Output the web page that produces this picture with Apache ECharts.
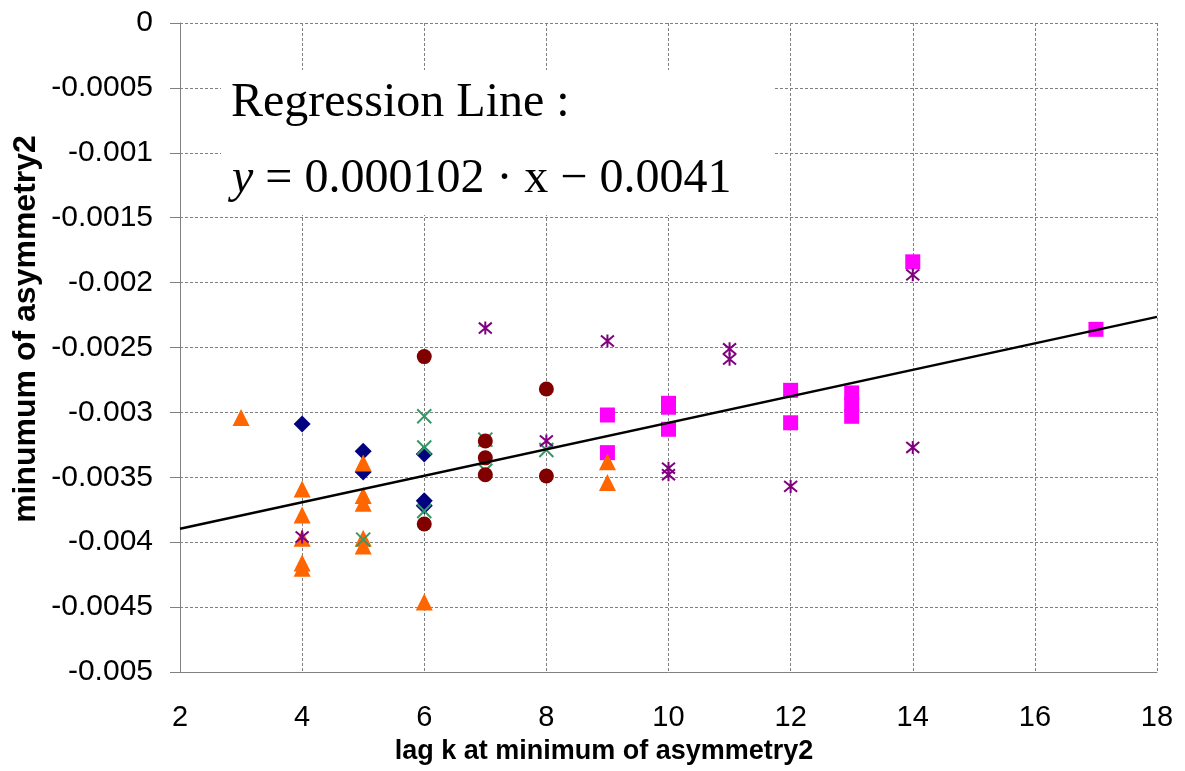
<!DOCTYPE html>
<html>
<head>
<meta charset="utf-8">
<title>minumum of asymmetry2 vs lag k</title>
<script src="https://cdn.jsdelivr.net/npm/echarts@6/dist/echarts.min.js"></script>
<style>
  html, body { margin: 0; padding: 0; background: #ffffff; }
  #chart { width: 1185px; height: 771px; }
</style>
</head>
<body>
<div id="chart"></div>
<script>
// Axis ranges and tick labels
const X_MIN = 2, X_MAX = 18, X_STEP = 2;
const Y_MIN = -0.005, Y_MAX = 0, Y_STEP = 0.0005;
const Y_TICK_LABELS = ['-0.005', '-0.0045', '-0.004', '-0.0035', '-0.003', '-0.0025',
                       '-0.002', '-0.0015', '-0.001', '-0.0005', '0'];

// Points: [lag k, minimum of asymmetry2]
const diamondPts = [
  [4, -0.00309], [5, -0.00330], [5, -0.00346],
  [6, -0.00332], [6, -0.00368], [6, -0.00372]
];
const squarePts = [
  [9, -0.00302], [9, -0.00331],
  [10, -0.00293], [10, -0.00296], [10, -0.00313],
  [12, -0.00283], [12, -0.00308],
  [13, -0.00285], [13, -0.00294], [13, -0.00303],
  [14, -0.00184], [17, -0.00236]
];
const trianglePts = [
  [3, -0.00304],
  [4, -0.00359], [4, -0.00379], [4, -0.00397], [4, -0.00416], [4, -0.00420],
  [5, -0.00339], [5, -0.00364], [5, -0.00370], [5, -0.00397], [5, -0.00403],
  [6, -0.00446],
  [9, -0.00338], [9, -0.00354]
];
const crossPts = [
  [5, -0.00398],
  [6, -0.00303], [6, -0.00327], [6, -0.00376],
  [7, -0.00321], [7, -0.00345],
  [8, -0.00329]
];
const starPts = [
  [4, -0.00396], [7, -0.00235], [8, -0.00322], [9, -0.00245],
  [10, -0.00343], [10, -0.00348], [11, -0.00251], [11, -0.00259],
  [12, -0.00357], [14, -0.00194], [14, -0.00327]
];
const circlePts = [
  [6, -0.00257], [6, -0.00386],
  [7, -0.00322], [7, -0.00335], [7, -0.00348],
  [8, -0.00282], [8, -0.00349]
];

// Regression line y = slope * x + intercept
const REG_SLOPE = 0.000102;
const REG_INTERCEPT = -0.0041;
const regLine = [X_MIN, X_MAX].map(x => [x, REG_SLOPE * x + REG_INTERCEPT]);

const SANS = "'Liberation Sans', Arial, sans-serif";
const SERIF = "'Liberation Serif', 'Times New Roman', serif";
const GRID_COLOR = '#808080';

const CROSS_PATH = 'path://M0,0L10,10M10,0L0,10';
const STAR_PATH = 'path://M0,0L10,10M10,0L0,10M5,-1L5,11';

function markerSeries(name, data, symbol, size, color, stroked) {
  return {
    name: name,
    type: 'scatter',
    data: data,
    symbol: symbol,
    symbolSize: size,
    itemStyle: stroked
      ? { color: color, borderColor: color, borderWidth: 2, opacity: 1 }
      : { color: color, opacity: 1 },
    emphasis: { disabled: true },
    z: 3
  };
}

const chart = echarts.init(document.getElementById('chart'), null, { renderer: 'canvas' });

chart.setOption({
  backgroundColor: '#ffffff',
  animation: false,
  grid: { left: 180, top: 23, right: 28, bottom: 99, containLabel: false },
  xAxis: {
    type: 'value',
    min: X_MIN, max: X_MAX, interval: X_STEP,
    axisLine: { show: true, onZero: false, lineStyle: { color: GRID_COLOR, width: 1 } },
    axisTick: { show: false },
    axisLabel: { color: '#000', fontFamily: SANS, fontSize: 29, margin: 31 },
    splitLine: { show: true, lineStyle: { color: GRID_COLOR, width: 1, type: [3, 2] } }
  },
  yAxis: {
    type: 'value',
    min: Y_MIN, max: Y_MAX, interval: Y_STEP,
    axisLine: { show: true, onZero: false, lineStyle: { color: GRID_COLOR, width: 1 } },
    axisTick: { show: true, inside: false, length: 10, lineStyle: { color: GRID_COLOR } },
    axisLabel: {
      color: '#000', fontFamily: SANS, fontSize: 30, margin: 27,
      formatter: v => Y_TICK_LABELS[Math.round((v - Y_MIN) / Y_STEP)]
    },
    splitLine: { show: true, lineStyle: { color: GRID_COLOR, width: 1, type: [3, 2] } }
  },
  series: [
    markerSeries('series1', diamondPts, 'diamond', 17, '#000080', false),
    markerSeries('series2', squarePts, 'rect', 15, '#FF00FF', false),
    markerSeries('series3', trianglePts, 'triangle', 17, '#FF6600', false),
    markerSeries('series4', crossPts, CROSS_PATH, 14, '#339966', true),
    markerSeries('series5', starPts, STAR_PATH, 13, '#800080', true),
    markerSeries('series6', circlePts, 'circle', 15, '#800000', false),
    {
      name: 'regression',
      type: 'line',
      data: regLine,
      symbol: 'none',
      lineStyle: { color: '#000', width: 2.5 },
      emphasis: { disabled: true },
      silent: true,
      z: 5
    }
  ],
  graphic: [
    {
      type: 'rect',
      z: 50,
      shape: { x: 221, y: 70, width: 552, height: 145 },
      style: { fill: '#ffffff' }
    },
    {
      type: 'text',
      z: 51,
      x: 231, y: 103,
      style: {
        text: 'Regression Line :',
        font: '48px ' + SERIF,
        fill: '#000',
        textAlign: 'left',
        textVerticalAlign: 'middle'
      }
    },
    {
      type: 'text',
      z: 51,
      x: 232, y: 179,
      style: {
        text: '{i|y} = 0.000102 · x − 0.0041',
        font: '48px ' + SERIF,
        fill: '#000',
        textAlign: 'left',
        textVerticalAlign: 'middle',
        rich: {
          i: { font: 'italic 48px ' + SERIF, fill: '#000' }
        }
      }
    },
    {
      type: 'text',
      z: 51,
      x: 604, y: 752,
      style: {
        text: 'lag k at minimum of asymmetry2',
        font: 'bold 27px ' + SANS,
        fill: '#000',
        textAlign: 'center',
        textVerticalAlign: 'middle'
      }
    },
    {
      type: 'text',
      z: 51,
      x: 26, y: 329,
      rotation: Math.PI / 2,
      style: {
        text: 'minumum of asymmetry2',
        font: 'bold 32px ' + SANS,
        fill: '#000',
        textAlign: 'center',
        textVerticalAlign: 'middle'
      }
    }
  ]
});
</script>
</body>
</html>
